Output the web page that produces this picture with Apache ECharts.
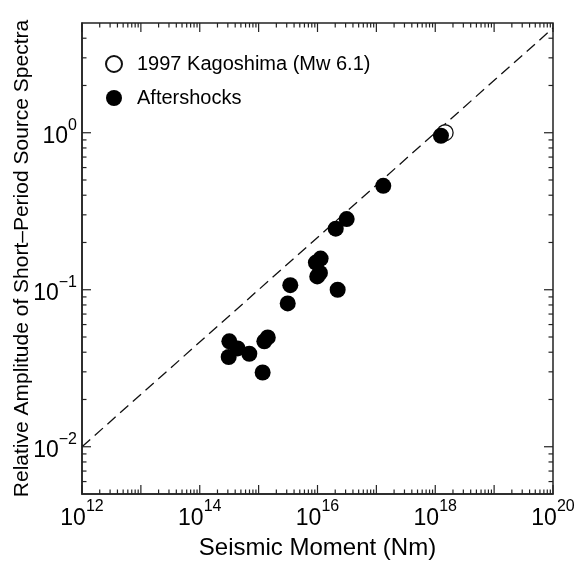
<!DOCTYPE html>
<html>
<head>
<meta charset="utf-8">
<script src="https://cdn.jsdelivr.net/npm/echarts@6/dist/echarts.min.js"></script>
<style>
  html, body { margin: 0; padding: 0; background: #ffffff; }
  #chart { width: 586px; height: 563px; }
</style>
</head>
<body>
<div id="chart"></div>
<script>
// Seismic moment (Nm) and relative short-period source-spectrum amplitude
const mainMoment = [1.47e18];
const mainAmp = [1.0];

const afterMoment = [3.13e16, 2.04e16, 1.13e16, 9.4e15, 1.10e16, 9.9e15, 2.2e16, 3.45e15,
                     3.12e15, 3.18e14, 4.4e14, 3.1e14, 6.95e14, 1.43e15, 1.25e15, 1.17e15,
                     1.31e17, 1.25e18];
const afterAmp = [0.282, 0.245, 0.158, 0.149, 0.128, 0.1215, 0.100, 0.107,
                  0.0818, 0.0469, 0.0423, 0.0373, 0.0391, 0.0497, 0.0469, 0.0297,
                  0.459, 0.957];

// Reference scaling line, amplitude proportional to M0^(1/3)
const lineMoment = [1e12, 1e20];
const lineAmp = [0.01, 4.64];

// Axis ranges and tick settings
const xExtent = [1e12, 1e20];
const yExtent = [0.005, 5];
const xDecades = [12, 13, 14, 15, 16, 17, 18, 19, 20];
const yDecades = [-3, -2, -1, 0];
const xLabelExponents = [12, 14, 16, 18, 20];
const yLabelExponents = [-2, -1, 0];
const minorSteps = [2, 3, 4, 5, 6, 7, 8, 9];

const FONT = '"Liberation Sans", Arial, Helvetica, sans-serif';

// Build tick records: [x, y, axis (0 = x, 1 = y), major flag]
function buildTicks(decades, extent, axisFlag) {
  const out = [];
  decades.forEach(function (e) {
    const base = Math.pow(10, e);
    if (base >= extent[0] * 0.999999 && base <= extent[1] * 1.000001) {
      out.push(axisFlag === 0 ? [base, yExtent[0], 0, 1] : [xExtent[0], base, 1, 1]);
    }
    minorSteps.forEach(function (m) {
      const v = m * base;
      if (v > extent[0] && v < extent[1]) {
        out.push(axisFlag === 0 ? [v, yExtent[0], 0, 0] : [xExtent[0], v, 1, 0]);
      }
    });
  });
  return out;
}
const tickData = buildTicks(xDecades, xExtent, 0).concat(buildTicks(yDecades, yExtent, 1));

function powLabel(v, allowed) {
  const lg = Math.log10(v);
  const e = Math.round(lg);
  if (Math.abs(lg - e) > 1e-6 || allowed.indexOf(e) < 0) return '';
  return '{b|10}{s|' + (e < 0 ? '\u2212' + (-e) : String(e)) + '}';
}

const labelRich = {
  b: { fontSize: 23, fontFamily: FONT, color: '#000', lineHeight: 31, verticalAlign: 'bottom' },
  s: { fontSize: 16, fontFamily: FONT, color: '#000', lineHeight: 18, verticalAlign: 'top' }
};

const chart = echarts.init(document.getElementById('chart'), null, { renderer: 'canvas' });

chart.setOption({
  backgroundColor: '#ffffff',
  animation: false,
  grid: {
    left: 82, top: 23, width: 471, height: 471,
    containLabel: false,
    outerBoundsMode: 'none',
    show: true, borderColor: '#222', borderWidth: 1.5, backgroundColor: 'transparent'
  },
  legend: {
    orient: 'vertical',
    left: 100, top: 49,
    itemWidth: 36, itemHeight: 16, itemGap: 14,
    data: ['1997 Kagoshima (Mw 6.1)', 'Aftershocks'],
    textStyle: { fontSize: 20, fontFamily: FONT, color: '#000' }
  },
  xAxis: {
    type: 'log', logBase: 10,
    min: xExtent[0], max: xExtent[1],
    axisLine: { show: true, lineStyle: { color: '#222', width: 1.5 } },
    axisTick: { show: false },
    splitLine: { show: false },
    axisLabel: {
      margin: 5,
      formatter: function (v) { return powLabel(v, xLabelExponents); },
      rich: labelRich
    },
    name: 'Seismic Moment (Nm)',
    nameLocation: 'middle',
    nameMoveOverlap: false,
    nameGap: 42,
    nameTextStyle: { fontSize: 24, fontFamily: FONT, color: '#000' }
  },
  yAxis: {
    type: 'log', logBase: 10,
    min: yExtent[0], max: yExtent[1],
    axisLine: { show: true, lineStyle: { color: '#222', width: 1.5 } },
    axisTick: { show: false },
    splitLine: { show: false },
    axisLabel: {
      margin: 5,
      formatter: function (v) { return powLabel(v, yLabelExponents); },
      rich: labelRich
    },
    name: 'Relative Amplitude of Short\u2013Period Source Spectra',
    nameLocation: 'middle',
    nameMoveOverlap: false,
    nameGap: 49,
    nameTextStyle: { fontSize: 21, fontFamily: FONT, color: '#000' }
  },
  series: [
    {
      name: 'ticks',
      type: 'custom',
      silent: true,
      clip: false,
      z: 5,
      encode: { x: 0, y: 1 },
      data: tickData,
      renderItem: function (params, api) {
        const cs = params.coordSys;
        const len = api.value(3) ? 9 : 4.5;
        const style = { stroke: '#222', lineWidth: 1.2 };
        if (api.value(2) === 0) {
          const px = api.coord([api.value(0), yExtent[0]])[0];
          const b = cs.y + cs.height;
          return { type: 'group', children: [
            { type: 'line', shape: { x1: px, y1: b, x2: px, y2: b - len }, style: style },
            { type: 'line', shape: { x1: px, y1: cs.y, x2: px, y2: cs.y + len }, style: style }
          ] };
        }
        const py = api.coord([xExtent[0], api.value(1)])[1];
        const r = cs.x + cs.width;
        return { type: 'group', children: [
          { type: 'line', shape: { x1: cs.x, y1: py, x2: cs.x + len, y2: py }, style: style },
          { type: 'line', shape: { x1: r, y1: py, x2: r - len, y2: py }, style: style }
        ] };
      }
    },
    {
      name: 'scaling',
      type: 'line',
      silent: true,
      symbol: 'none',
      z: 2,
      lineStyle: { color: '#111', width: 1.3, type: [11, 6] },
      data: lineMoment.map(function (m, i) { return [m, lineAmp[i]]; })
    },
    {
      name: '1997 Kagoshima (Mw 6.1)',
      type: 'scatter',
      symbol: 'circle',
      symbolSize: 16,
      z: 3,
      itemStyle: { color: '#ffffff', borderColor: '#111', borderWidth: 1.3, opacity: 1 },
      data: mainMoment.map(function (m, i) { return [m, mainAmp[i]]; })
    },
    {
      name: 'Aftershocks',
      type: 'scatter',
      symbol: 'circle',
      symbolSize: 16,
      z: 4,
      itemStyle: { color: '#000000', borderWidth: 0, opacity: 1 },
      data: afterMoment.map(function (m, i) { return [m, afterAmp[i]]; })
    }
  ]
});
</script>
</body>
</html>
